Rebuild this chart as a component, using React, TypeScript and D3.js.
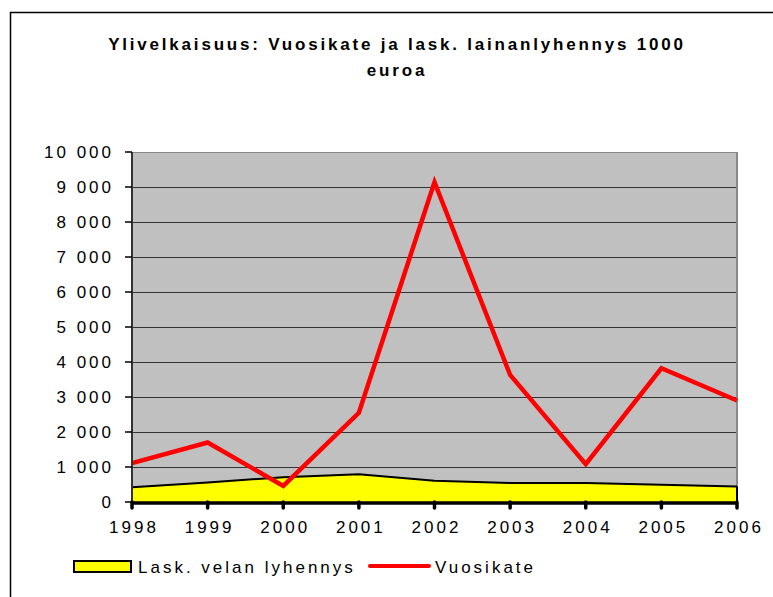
import { useEffect, useRef } from "react"
import * as d3 from "d3"

const years = [1998, 1999, 2000, 2001, 2002, 2003, 2004, 2005, 2006]
const lyhennys = [420, 560, 710, 790, 610, 545, 540, 495, 440]
const vuosikate = [1110, 1700, 460, 2550, 9140, 3630, 1080, 3820, 2900]
const yTicks = [0, 1000, 2000, 3000, 4000, 5000, 6000, 7000, 8000, 9000, 10000]

const W = 773
const H = 597
const font = "'Liberation Sans', Arial, sans-serif"

export default function App() {
  const svgRef = useRef<SVGSVGElement>(null)

  useEffect(() => {
    if (!svgRef.current) return
    const svg = d3.select(svgRef.current)
    svg.selectAll("*").remove()

    const left = 132, right = 737, top = 152, bottom = 502

    const x = d3.scaleLinear().domain([1998, 2006]).range([left, right])
    const y = d3.scaleLinear().domain([0, 10000]).range([bottom, top])

    // outer frame
    svg.append("rect")
      .attr("x", 10.5).attr("y", 12.5)
      .attr("width", W).attr("height", H)
      .attr("fill", "#fff").attr("stroke", "#000").attr("stroke-width", 1.5)

    // title
    const title = svg.append("text")
      .attr("text-anchor", "middle")
      .attr("font-family", font)
      .attr("font-weight", "bold")
      .attr("font-size", 17)
      .attr("letter-spacing", 2.8)
    title.append("tspan").attr("x", 397).attr("y", 50)
      .text("Ylivelkaisuus: Vuosikate ja lask. lainanlyhennys 1000")
    title.append("tspan").attr("x", 397).attr("y", 76).text("euroa")

    // plot background
    svg.append("rect")
      .attr("x", left).attr("y", top)
      .attr("width", right - left).attr("height", bottom - top)
      .attr("fill", "#c0c0c0")

    // gridlines
    svg.append("g").selectAll("line")
      .data(yTicks.filter((d) => d > 0))
      .join("line")
      .attr("x1", left).attr("x2", right)
      .attr("y1", (d) => y(d) + 0.5).attr("y2", (d) => y(d) + 0.5)
      .attr("stroke", (d) => (d === 10000 ? "#8a8a8a" : "#333"))
      .attr("stroke-width", 1)

    // right border
    svg.append("line")
      .attr("x1", right).attr("x2", right)
      .attr("y1", top).attr("y2", bottom)
      .attr("stroke", "#8a8a8a").attr("stroke-width", 2)

    // area
    const area = d3.area<number>()
      .x((_, i) => x(years[i]))
      .y0(y(0))
      .y1((d) => y(d))
    svg.append("path")
      .attr("d", area(lyhennys) || "")
      .attr("fill", "#ffff00")
    const lineGen = d3.line<number>()
      .x((_, i) => x(years[i]))
      .y((d) => y(d))
    svg.append("path")
      .attr("d", lineGen(lyhennys) || "")
      .attr("fill", "none").attr("stroke", "#000").attr("stroke-width", 2)
    svg.append("line")
      .attr("x1", right).attr("x2", right)
      .attr("y1", y(lyhennys[lyhennys.length - 1])).attr("y2", bottom)
      .attr("stroke", "#000").attr("stroke-width", 2)

    // vuosikate line
    svg.append("path")
      .attr("d", lineGen(vuosikate) || "")
      .attr("fill", "none")
      .attr("stroke", "#ff0000")
      .attr("stroke-width", 4.5)
      .attr("stroke-linejoin", "miter")

    // y axis
    svg.append("line")
      .attr("x1", left).attr("x2", left)
      .attr("y1", top).attr("y2", bottom)
      .attr("stroke", "#333").attr("stroke-width", 2)
    const yAxis = svg.append("g")
    yAxis.selectAll("line")
      .data(yTicks)
      .join("line")
      .attr("x1", left - 7).attr("x2", left)
      .attr("y1", (d) => y(d)).attr("y2", (d) => y(d))
      .attr("stroke", "#000").attr("stroke-width", 1.5)
    yAxis.selectAll("text")
      .data(yTicks)
      .join("text")
      .attr("x", 114)
      .attr("y", (d) => y(d) + 6)
      .attr("text-anchor", "end")
      .attr("font-family", font)
      .attr("font-size", 17)
      .attr("letter-spacing", 3)
      .text((d) => d3.format(",")(d).replace(/,/g, " "))

    // x axis
    svg.append("line")
      .attr("x1", left - 1).attr("x2", right + 1)
      .attr("y1", bottom + 1).attr("y2", bottom + 1)
      .attr("stroke", "#000").attr("stroke-width", 3.5)
    const xAxis = svg.append("g")
    xAxis.selectAll("line")
      .data(years)
      .join("line")
      .attr("x1", (d) => x(d)).attr("x2", (d) => x(d))
      .attr("y1", bottom).attr("y2", bottom + 6)
      .attr("stroke", "#000").attr("stroke-width", 3.5)
      .attr("stroke-linecap", "round")
    xAxis.selectAll("text")
      .data(years)
      .join("text")
      .attr("x", (d) => x(d) + 2)
      .attr("y", 533)
      .attr("text-anchor", "middle")
      .attr("font-family", font)
      .attr("font-size", 17)
      .attr("letter-spacing", 3)
      .text((d) => String(d))

    // legend
    svg.append("rect")
      .attr("x", 74).attr("y", 561)
      .attr("width", 57).attr("height", 11)
      .attr("fill", "#ffff00").attr("stroke", "#000").attr("stroke-width", 2)
    svg.append("text")
      .attr("x", 138).attr("y", 573)
      .attr("font-family", font).attr("font-size", 17).attr("letter-spacing", 3)
      .text("Lask. velan lyhennys")
    svg.append("line")
      .attr("x1", 370).attr("x2", 429)
      .attr("y1", 566).attr("y2", 566)
      .attr("stroke", "#ff0000").attr("stroke-width", 4)
      .attr("stroke-linecap", "round")
    svg.append("text")
      .attr("x", 435).attr("y", 573)
      .attr("font-family", font).attr("font-size", 17).attr("letter-spacing", 3)
      .text("Vuosikate")
  }, [])

  return (
    <svg
      ref={svgRef}
      width={W}
      height={H}
      style={{ position: "absolute", left: 0, top: 0, display: "block" }}
    />
  )
}
